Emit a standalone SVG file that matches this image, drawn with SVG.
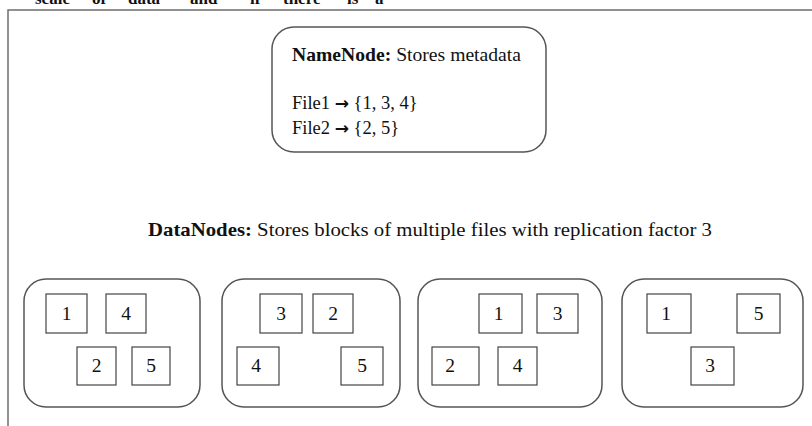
<svg xmlns="http://www.w3.org/2000/svg" width="812" height="426" viewBox="0 0 812 426">
<style>
.frame{fill:none;stroke:#6e6e6e;stroke-width:1.5}
.node{fill:#ffffff;stroke:#555555;stroke-width:1.5}
.blk{fill:#ffffff;stroke:#444444;stroke-width:1.2}
.t{font-family:"Liberation Serif","Times New Roman",serif;fill:#111111}
.b{font-weight:bold}
.arr{font-family:"DejaVu Sans",sans-serif;font-weight:bold;font-size:17px}
.num{font-family:"Liberation Serif","Times New Roman",serif;font-size:19.5px;fill:#111111;text-anchor:middle}
</style>
<rect width="812" height="426" fill="#ffffff"/>
<text class="t b" font-size="17" y="4"><tspan x="35">scale</tspan><tspan x="92">of</tspan><tspan x="128">data</tspan><tspan x="190">and</tspan><tspan x="250">if</tspan><tspan x="283">there</tspan><tspan x="347">is</tspan><tspan x="375">a</tspan></text>
<path class="frame" d="M8,426 V10 H812"/>
<g id="namenode">
<rect class="node" x="272" y="27" width="274" height="125" rx="22" ry="22"/>
<text class="t" font-size="19.5" x="292" y="61" textLength="229" lengthAdjust="spacingAndGlyphs"><tspan class="b">NameNode:</tspan> Stores metadata</text>
<text class="t" font-size="18.5" x="292" y="109">File1 <tspan class="arr">→</tspan> {1, 3, 4}</text>
<text class="t" font-size="18.5" x="292" y="134">File2 <tspan class="arr">→</tspan> {2, 5}</text>
</g>
<text id="datanodes-label" class="t" font-size="19.5" x="148" y="236" textLength="564" lengthAdjust="spacingAndGlyphs"><tspan class="b">DataNodes:</tspan> Stores blocks of multiple files with replication factor 3</text>
<g id="datanode1">
<rect class="node" x="24" y="279" width="176" height="128" rx="22" ry="22"/>
<rect class="blk" x="46" y="294" width="41" height="39"/><text class="num" x="66.5" y="320">1</text>
<rect class="blk" x="106" y="294" width="40" height="39"/><text class="num" x="126" y="320">4</text>
<rect class="blk" x="77" y="347" width="39" height="38"/><text class="num" x="96.5" y="372">2</text>
<rect class="blk" x="132" y="347" width="38" height="38"/><text class="num" x="151" y="372">5</text>
</g>
<g id="datanode2">
<rect class="node" x="222" y="279" width="178" height="128" rx="22" ry="22"/>
<rect class="blk" x="260" y="294" width="42" height="39"/><text class="num" x="281" y="320">3</text>
<rect class="blk" x="313" y="294" width="40" height="39"/><text class="num" x="333" y="320">2</text>
<rect class="blk" x="237" y="347" width="42" height="38"/><text class="num" x="256" y="372">4</text>
<rect class="blk" x="341" y="347" width="42" height="38"/><text class="num" x="362" y="372">5</text>
</g>
<g id="datanode3">
<rect class="node" x="418" y="279" width="184" height="128" rx="22" ry="22"/>
<rect class="blk" x="479" y="294" width="43" height="39"/><text class="num" x="498.5" y="320">1</text>
<rect class="blk" x="537" y="294" width="41" height="39"/><text class="num" x="557.5" y="320">3</text>
<rect class="blk" x="432" y="347" width="47" height="38"/><text class="num" x="450" y="372">2</text>
<rect class="blk" x="498" y="347" width="39" height="38"/><text class="num" x="517.5" y="372">4</text>
</g>
<g id="datanode4">
<rect class="node" x="622" y="279" width="181" height="128" rx="22" ry="22"/>
<rect class="blk" x="647" y="294" width="44" height="39"/><text class="num" x="666" y="320">1</text>
<rect class="blk" x="737" y="294" width="43" height="39"/><text class="num" x="758.5" y="320">5</text>
<rect class="blk" x="691" y="347" width="43" height="38"/><text class="num" x="710" y="372">3</text>
</g>
</svg>
